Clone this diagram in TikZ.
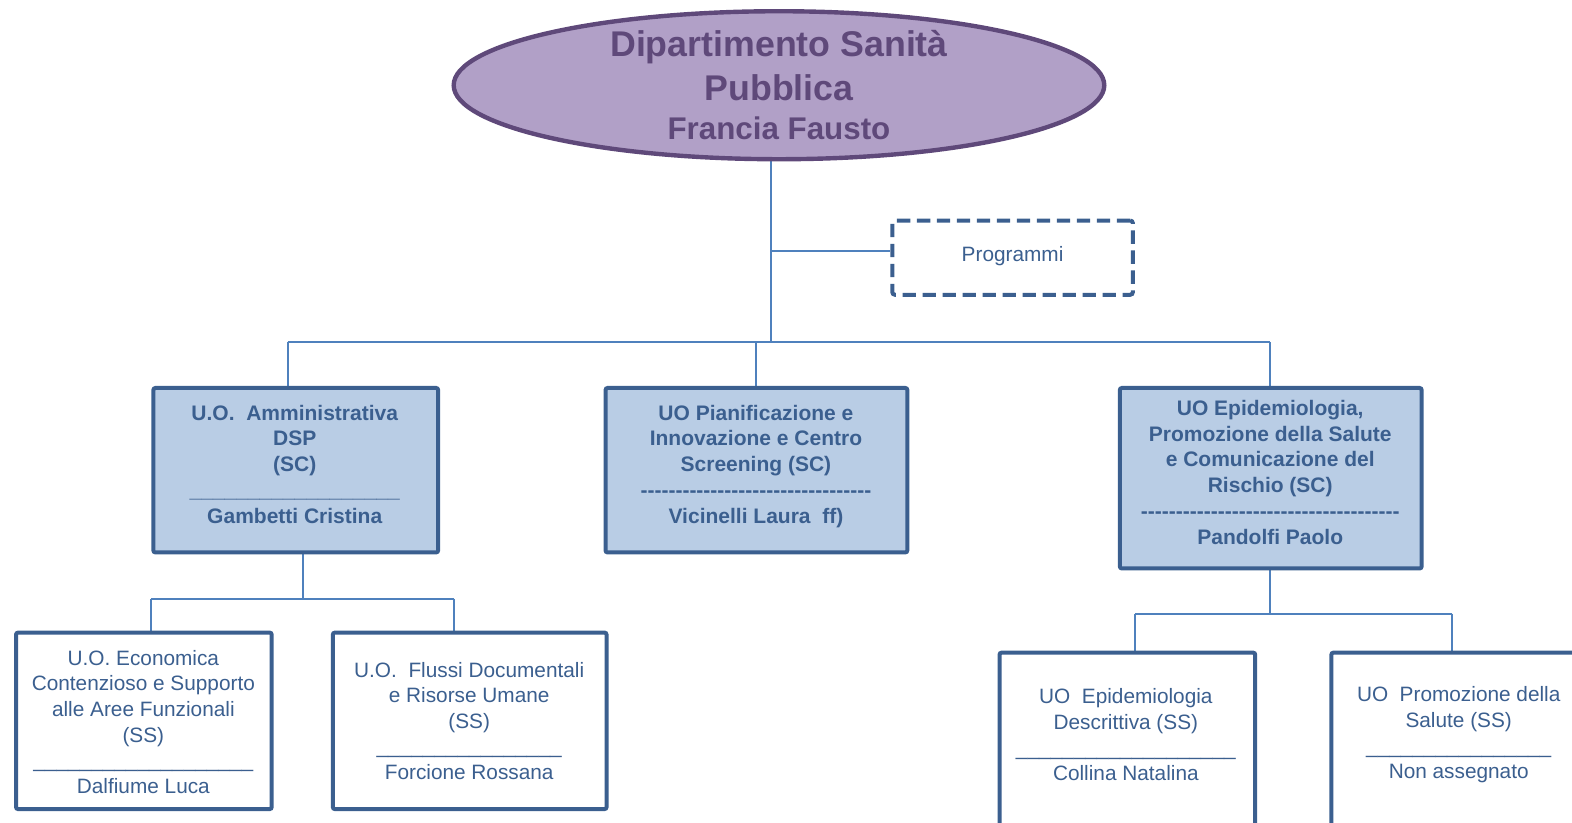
\documentclass[tikz,border=0pt]{standalone}
\usepackage{fontspec}
\setmainfont{Liberation Sans}
\usetikzlibrary{shapes.geometric,fit}
\definecolor{boxborder}{HTML}{3B5F8F}
\definecolor{boxfill}{HTML}{B9CDE5}
\definecolor{conncol}{HTML}{4F81BD}
\definecolor{ellfill}{HTML}{B1A0C7}
\definecolor{elldraw}{HTML}{5F497A}
\definecolor{txtblue}{HTML}{3B5F8F}
\ExplSyntaxOn
\cs_new:Npn \myrep #1#2 { \prg_replicate:nn {#1} {#2} }
\ExplSyntaxOff
\pgfdeclarelayer{bg}
\pgfsetlayers{bg,main}
\begin{document}
\begin{tikzpicture}[x=0.752pt,y=-0.752pt,
 boxsc/.style={draw=boxborder, fill=boxfill, line width=3pt, rounded corners=1.5pt, inner sep=0pt},
 boxss/.style={draw=boxborder, fill=white, line width=3pt, rounded corners=1.5pt, inner sep=0pt},
 progbox/.style={draw=boxborder, dash pattern=on 10pt off 5pt, line width=3pt, rounded corners=2pt, inner sep=0pt},
 conn/.style={draw=conncol, line width=1.5pt},
 sctext/.style={text=txtblue, align=center, inner sep=0pt, font=\fontsize{15.75}{19.3}\selectfont\bfseries},
 sstext/.style={text=txtblue, align=center, inner sep=0pt, font=\fontsize{15.6}{19.2}\selectfont},
 titletext/.style={text=elldraw, align=center, inner sep=0pt, font=\fontsize{26.8}{33}\selectfont\bfseries},
]
\useasboundingbox (0,0) rectangle (1568,820);
\clip (0,0) rectangle (1568,820);

% head
\node[ellipse, draw=elldraw, fill=ellfill, line width=3.3pt, minimum width=488pt, minimum height=111pt, inner sep=0pt] (dept) at (777,85) {};
\node[titletext] (ttl) at (777,65) {Dipartimento Sanità\\Pubblica};
\node[titletext, font=\fontsize{23.5}{27}\selectfont\bfseries] (ttlname) at (777,128) {Francia Fausto};

% programmi
\node[progbox, fit={(890,220) (1130,294)}] (prog) {};
\node[sstext] (progtxt) at (1010,255) {Programmi};

% SC boxes
\node[boxsc, fit={(153,387) (437,551)}] (uoa) {};
\node[sctext] (uoatxt) at (294,463) {U.O.\ \ Amministrativa\\DSP\\(SC)\\\myrep{18}{\_}\\Gambetti Cristina};

\node[boxsc, fit={(604,387) (905,551)}] (pian) {};
\node[sctext] (piantxt) at (754,465) {UO Pianificazione e\\Innovazione e Centro\\Screening (SC)\\\myrep{33}{-{}}\\Vicinelli Laura\ \ ff)};

\node[boxsc, fit={(1117,387) (1418,567)}] (epi) {};
\node[sctext] (epitxt) at (1267,471) {UO Epidemiologia,\\Promozione della Salute\\e Comunicazione del\\Rischio (SC)\\\myrep{37}{-{}}\\Pandolfi Paolo};

% SS boxes
\node[boxss, fit={(16,631) (271,807)}] (econ) {};
\node[sstext] (econtxt) at (143,720) {U.O. Economica\\Contenzioso e Supporto\\alle Aree Funzionali\\(SS)\\\myrep{19}{\_}\\Dalfiume Luca};

\node[boxss, fit={(332,631) (605,807)}] (flussi) {};
\node[sstext] (flussitxt) at (468,719) {U.O.\ \ Flussi Documentali\\e Risorse Umane\\(SS)\\\myrep{16}{\_}\\Forcione Rossana};

\node[boxss, fit={(997,651) (1252,860)}] (descr) {};
\node[sstext] (descrtxt) at (1123,733) {UO\ \ Epidemiologia\\Descrittiva (SS)\\\myrep{19}{\_}\\Collina Natalina};

\node[boxss, fit={(1328,651) (1620,860)}] (promo) {};
\node[sstext] (promotxt) at (1455,733) {UO\ \ Promozione della\\Salute (SS)\\\myrep{16}{\_}\\Non assegnato};

% connectors
\coordinate (jtop) at (769,341);
\coordinate (jprog) at (769,250);
\coordinate (d1) at (287,341);
\coordinate (d2) at (754,341);
\coordinate (d3) at (1267,341);
\coordinate (l0) at (302,597);
\coordinate (l1) at (151,597);
\coordinate (l2) at (453,597);
\coordinate (r0) at (1267,612);
\coordinate (r1) at (1132,612);
\coordinate (r2) at (1448,612);
\begin{pgfonlayer}{bg}
\draw[conn] (dept.south -| jtop) -- (jtop);
\draw[conn] (jprog) -- (jprog -| prog.west);
\draw[conn] (d1) -- (d3);
\draw[conn] (d1) -- (d1 |- uoa.north);
\draw[conn] (d2) -- (d2 |- pian.north);
\draw[conn] (d3) -- (d3 |- epi.north);
\draw[conn] (uoa.south -| l0) -- (l0);
\draw[conn] (l1) -- (l2);
\draw[conn] (l1) -- (l1 |- econ.north);
\draw[conn] (l2) -- (l2 |- flussi.north);
\draw[conn] (epi.south -| r0) -- (r0);
\draw[conn] (r1) -- (r2);
\draw[conn] (r1) -- (r1 |- descr.north);
\draw[conn] (r2) -- (r2 |- promo.north);
\end{pgfonlayer}
\end{tikzpicture}
\end{document}
